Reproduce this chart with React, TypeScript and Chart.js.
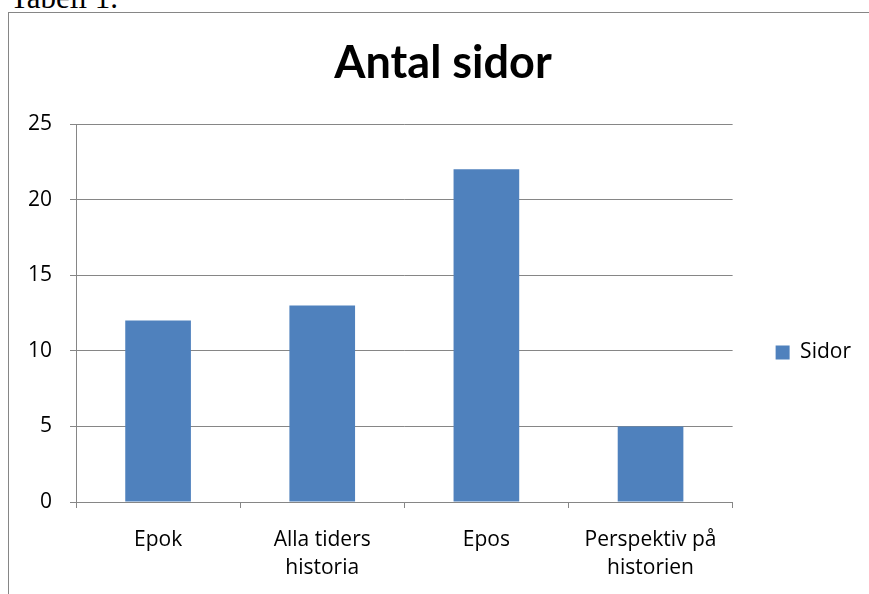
import React, { useEffect, useRef } from "react";
import { Chart, registerables } from "chart.js";

Chart.register(...registerables);

const chartTitle = "Antal sidor";
const categories: (string | string[])[] = [
  "Epok",
  ["Alla tiders", "historia"],
  "Epos",
  ["Perspektiv på", "historien"],
];
const seriesName = "Sidor";
const seriesValues = [12, 13, 22, 5];
const yMin = 0;
const yMax = 25;
const yStep = 5;

const FONT = "'Open Sans', sans-serif";
const TITLE_FONT = "Lato, 'Open Sans', sans-serif";
const GRID = "#868686";
const BAR = "#4F81BD";

// widens the legend box a little so it leaves the same margin as the original
const legendExtraWidth = {
  id: "legendExtraWidth",
  afterInit(chart: any) {
    const lg = chart.legend;
    if (!lg) return;
    const orig = lg.fit.bind(lg);
    lg.fit = function () {
      orig();
      this.width += 13;
    };
  },
};

export default function App() {
  const ref = useRef<HTMLCanvasElement | null>(null);

  useEffect(() => {
    if (!ref.current) return;
    const chart = new Chart(ref.current, {
      type: "bar",
      data: {
        labels: categories,
        datasets: [
          {
            label: seriesName,
            data: seriesValues,
            backgroundColor: BAR,
            borderWidth: 0,
            barPercentage: 0.4,
            categoryPercentage: 1,
          },
        ],
      },
      plugins: [legendExtraWidth],
      options: {
        animation: false,
        responsive: false,
        maintainAspectRatio: false,
        layout: { padding: { left: 2, right: 2, top: 0, bottom: 12 } },
        plugins: {
          tooltip: { enabled: false },
          title: {
            display: true,
            text: chartTitle,
            color: "#000",
            font: { family: TITLE_FONT, size: 45, weight: "bold", lineHeight: 1.2 },
            padding: { top: 23, bottom: 34 },
          },
          legend: {
            position: "right",
            align: "center",
            title: {
              display: true,
              text: " ",
              font: { size: 10, lineHeight: 1.2 },
              padding: { top: 98, bottom: 0 },
            },
            labels: {
              boxWidth: 14,
              boxHeight: 14,
              color: "#000",
              padding: 43,
              font: { family: FONT, size: 21 },
            },
          },
        },
        scales: {
          x: {
            afterFit: (s: any) => {
              s.height = 80;
            },
            grid: {
              display: true,
              offset: true,
              drawOnChartArea: false,
              drawTicks: true,
              tickLength: 6,
              color: GRID,
            },
            border: { color: GRID, width: 1 },
            ticks: {
              color: "#000",
              padding: 18,
              maxRotation: 0,
              autoSkip: false,
              font: { family: FONT, size: 21, lineHeight: 1.333 },
            },
          },
          y: {
            min: yMin,
            max: yMax,
            afterFit: (s: any) => {
              s.width = 64;
            },
            grid: { color: GRID, tickLength: 6, drawTicks: true },
            border: { color: GRID, width: 1 },
            ticks: {
              stepSize: yStep,
              color: "#000",
              padding: 18,
              font: { family: FONT, size: 21 },
            },
          },
        },
      },
    });
    return () => chart.destroy();
  }, []);

  return (
    <div
      style={{
        position: "fixed",
        left: 0,
        top: 0,
        width: 869,
        height: 594,
        overflow: "hidden",
        background: "#fff",
      }}
    >
      <div
        style={{
          position: "absolute",
          left: 10,
          top: -18,
          fontFamily: "'Liberation Serif', 'Times New Roman', serif",
          fontSize: 31,
          lineHeight: "31px",
          color: "#000",
          whiteSpace: "nowrap",
        }}
      >
        Tabell 1.
      </div>
      <div
        style={{
          position: "absolute",
          left: 8,
          top: 12,
          width: 900,
          height: 700,
          border: "1px solid #868686",
          boxSizing: "border-box",
        }}
      />
      <canvas
        ref={ref}
        width={866}
        height={581}
        style={{ position: "absolute", left: 10, top: 13, width: 866, height: 581 }}
      />
    </div>
  );
}
